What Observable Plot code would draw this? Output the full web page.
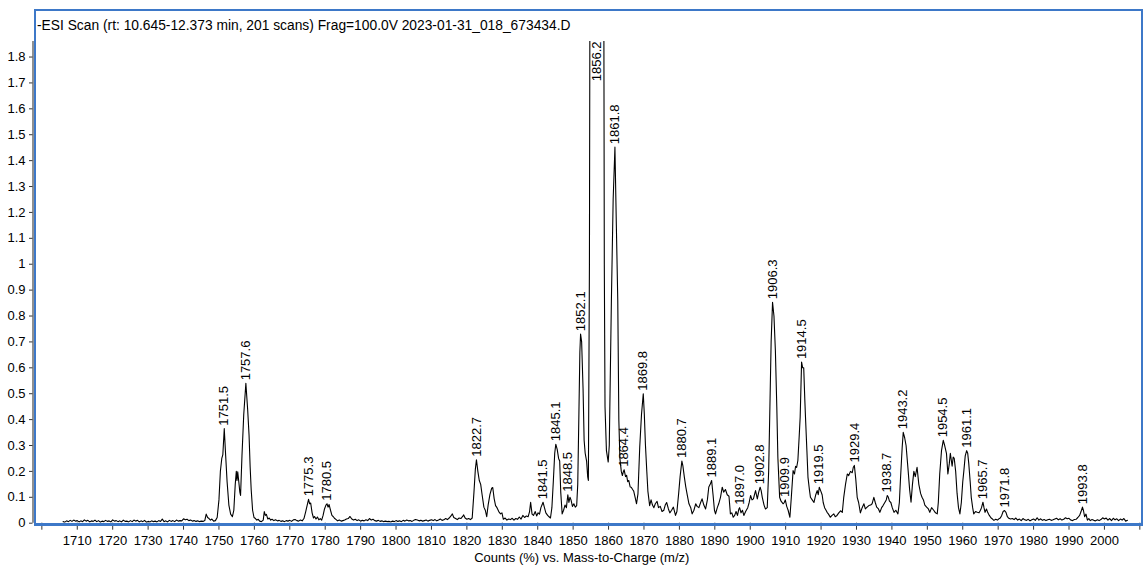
<!DOCTYPE html>
<html>
<head>
<meta charset="utf-8">
<script src="https://cdn.jsdelivr.net/npm/d3@7"></script>
<script src="https://cdn.jsdelivr.net/npm/@observablehq/plot@0.6"></script>
<style>
  html, body { margin: 0; padding: 0; background: #fff; }
  #wrap { position: relative; width: 1144px; height: 565px; font-family: "Liberation Sans", Arial, sans-serif; }
  #frame { position: absolute; left: 34px; top: 9px; width: 1109px; height: 517px; box-sizing: border-box;
           border: 2px solid #3d78c8; border-bottom-width: 3px; pointer-events: none; }
  #title { position: absolute; left: 37px; top: 18px; font-size: 13.8px; line-height: 15px; color: #000; white-space: nowrap; }
</style>
</head>
<body>
<div id="wrap">
  <div id="chart"></div>
  <div id="frame"></div>
  <div id="title">-ESI Scan (rt: 10.645-12.373 min, 201 scans) Frag=100.0V 2023-01-31_018_673434.D</div>
</div>
<script>
// Axis ranges and ticks
const mzRange = [1697.5, 2010.75];
const countRange = [0, 1.86];
const xTicks = [1700, 1710, 1720, 1730, 1740, 1750, 1760, 1770, 1780, 1790, 1800, 1810, 1820, 1830, 1840,
  1850, 1860, 1870, 1880, 1890, 1900, 1910, 1920, 1930, 1940, 1950, 1960, 1970, 1980, 1990, 2000, 2010];
const xLabeled = [1710, 1720, 1730, 1740, 1750, 1760, 1770, 1780, 1790, 1800, 1810, 1820, 1830, 1840,
  1850, 1860, 1870, 1880, 1890, 1900, 1910, 1920, 1930, 1940, 1950, 1960, 1970, 1980, 1990, 2000];
const yTicks = [0, 0.1, 0.2, 0.3, 0.4, 0.5, 0.6, 0.7, 0.8, 0.9, 1, 1.1, 1.2, 1.3, 1.4, 1.5, 1.6, 1.7, 1.8];
const yTickLabels = ["0", "0.1", "0.2", "0.3", "0.4", "0.5", "0.6", "0.7", "0.8", "0.9", "1",
  "1.1", "1.2", "1.3", "1.4", "1.5", "1.6", "1.7", "1.8"];
const xTitle = "Counts (%) vs. Mass-to-Charge (m/z)";

// Spectrum trace, [m/z, counts %], split by m/z region
const traceA = [ // 1706 – 1749 baseline
  [1706.0,0.006],[1706.5,0.004],[1707.0,0.009],[1707.5,0.006],[1708.0,0.011],[1708.5,0.007],[1709.0,0.012],[1709.5,0.008],
  [1710.0,0.010],[1710.5,0.005],[1711.0,0.009],[1711.5,0.006],[1712.0,0.013],[1712.5,0.008],[1713.0,0.011],[1713.5,0.005],
  [1714.0,0.009],[1714.5,0.007],[1715.0,0.012],[1715.5,0.006],[1716.0,0.010],[1716.5,0.004],[1717.0,0.008],[1717.5,0.006],
  [1718.0,0.011],[1718.5,0.007],[1719.0,0.009],[1719.5,0.005],[1720.0,0.013],[1720.5,0.008],[1721.0,0.010],[1721.5,0.006],
  [1722.0,0.009],[1722.5,0.005],[1723.0,0.012],[1723.5,0.007],[1724.0,0.008],[1724.5,0.005],[1725.0,0.010],[1725.5,0.006],
  [1726.0,0.012],[1726.5,0.008],[1727.0,0.011],[1727.5,0.005],[1728.0,0.009],[1728.5,0.006],[1729.0,0.011],[1729.5,0.004],
  [1730.0,0.007],[1730.5,0.005],[1731.0,0.009],[1731.5,0.006],[1732.0,0.008],[1732.5,0.005],[1733.0,0.010],[1733.5,0.007],
  [1734.0,0.016],[1734.5,0.006],[1735.0,0.009],[1735.5,0.005],[1736.0,0.011],[1736.5,0.007],[1737.0,0.010],[1737.5,0.006],
  [1738.0,0.012],[1738.5,0.008],[1739.0,0.010],[1739.5,0.009],[1740.0,0.017],[1740.5,0.013],[1741.0,0.015],[1741.5,0.010],
  [1742.0,0.012],[1742.5,0.008],[1743.0,0.010],[1743.5,0.007],[1744.0,0.009],[1744.5,0.006],[1745.0,0.008],[1745.5,0.007],
  [1746.0,0.010],[1746.4,0.035],[1746.8,0.022],[1747.2,0.018],[1747.6,0.012],[1748.0,0.016],[1748.5,0.008],[1749.0,0.010]
];
const traceB = [ // 1749.5 – 1790
  [1749.5,0.022],[1750.0,0.090],[1750.4,0.200],[1750.8,0.250],[1751.1,0.265],[1751.5,0.365],[1751.9,0.260],[1752.3,0.160],
  [1752.8,0.070],[1753.3,0.035],[1753.8,0.025],[1754.2,0.050],[1754.6,0.150],[1754.9,0.200],[1755.1,0.165],[1755.3,0.198],
  [1755.6,0.160],[1755.9,0.120],[1756.1,0.107],[1756.5,0.260],[1757.0,0.420],[1757.6,0.540],[1758.1,0.440],[1758.5,0.340],
  [1758.8,0.220],[1759.1,0.130],[1759.5,0.050],[1759.9,0.022],[1760.3,0.018],[1760.7,0.012],[1761.1,0.015],[1761.5,0.008],
  [1762.0,0.006],[1762.5,0.012],[1762.8,0.045],[1763.1,0.030],[1763.4,0.034],[1763.8,0.016],[1764.2,0.020],[1764.6,0.012],
  [1765.0,0.015],[1765.5,0.010],[1766.0,0.013],[1766.5,0.009],[1767.0,0.011],[1767.5,0.007],[1768.0,0.009],[1768.5,0.006],
  [1769.0,0.010],[1769.5,0.008],[1770.0,0.011],[1770.5,0.007],[1771.0,0.013],[1771.5,0.014],[1772.0,0.010],[1772.5,0.008],
  [1773.0,0.012],[1773.5,0.009],[1774.0,0.018],[1774.5,0.045],[1775.0,0.075],[1775.3,0.092],[1775.6,0.075],[1775.9,0.078],
  [1776.3,0.040],[1776.7,0.020],[1777.0,0.026],[1777.4,0.016],[1777.8,0.024],[1778.2,0.013],[1778.6,0.018],[1779.0,0.012],
  [1779.4,0.030],[1779.8,0.055],[1780.2,0.070],[1780.5,0.075],[1780.8,0.062],[1781.1,0.072],[1781.5,0.050],[1781.9,0.030],
  [1782.3,0.025],[1782.7,0.018],[1783.1,0.014],[1783.5,0.009],[1784.0,0.012],[1784.5,0.008],[1785.0,0.010],[1785.5,0.012],
  [1786.0,0.016],[1786.5,0.018],[1787.0,0.026],[1787.5,0.016],[1788.0,0.012],[1788.5,0.015],[1789.0,0.010],[1789.5,0.013]
];
const traceC = [ // 1790 – 1851
  [1790.0,0.008],[1790.5,0.011],[1791.0,0.009],[1791.5,0.013],[1792.0,0.010],[1792.5,0.018],[1793.0,0.012],[1793.5,0.015],
  [1794.0,0.010],[1794.5,0.008],[1795.0,0.011],[1795.5,0.007],[1796.0,0.009],[1796.5,0.006],[1797.0,0.008],[1797.5,0.006],
  [1798.0,0.007],[1798.5,0.005],[1799.0,0.008],[1799.5,0.006],[1800.0,0.010],[1800.5,0.007],[1801.0,0.009],[1801.5,0.006],
  [1802.0,0.011],[1802.5,0.008],[1803.0,0.012],[1803.5,0.009],[1804.0,0.010],[1804.5,0.007],[1805.0,0.011],[1805.5,0.014],
  [1806.0,0.012],[1806.5,0.009],[1807.0,0.011],[1807.5,0.008],[1808.0,0.010],[1808.5,0.012],[1809.0,0.008],[1809.5,0.011],
  [1810.0,0.013],[1810.5,0.010],[1811.0,0.014],[1811.5,0.009],[1812.0,0.012],[1812.5,0.016],[1813.0,0.011],[1813.5,0.013],
  [1814.0,0.018],[1814.5,0.014],[1815.0,0.020],[1815.5,0.028],[1815.9,0.036],[1816.3,0.022],[1816.8,0.018],[1817.3,0.014],
  [1817.8,0.020],[1818.3,0.018],[1818.8,0.026],[1819.1,0.032],[1819.5,0.020],[1820.0,0.015],[1820.5,0.018],[1821.0,0.014],
  [1821.5,0.020],[1822.0,0.120],[1822.4,0.210],[1822.7,0.245],[1823.1,0.200],[1823.5,0.165],[1823.9,0.150],[1824.3,0.110],
  [1824.8,0.062],[1825.2,0.050],[1825.6,0.025],[1826.0,0.070],[1826.5,0.110],[1827.0,0.135],[1827.3,0.138],[1827.7,0.095],
  [1828.1,0.068],[1828.5,0.060],[1829.0,0.045],[1829.5,0.036],[1829.9,0.040],[1830.3,0.015],[1830.8,0.020],[1831.3,0.012],
  [1831.8,0.016],[1832.3,0.014],[1832.8,0.019],[1833.3,0.012],[1833.8,0.018],[1834.3,0.015],[1834.8,0.024],[1835.3,0.016],
  [1835.8,0.030],[1836.3,0.022],[1836.8,0.028],[1837.3,0.025],[1837.7,0.045],[1838.0,0.081],[1838.4,0.035],[1838.8,0.030],
  [1839.3,0.045],[1839.7,0.028],[1840.1,0.040],[1840.5,0.035],[1840.9,0.060],[1841.2,0.070],[1841.5,0.081],[1841.9,0.060],
  [1842.3,0.040],[1842.8,0.030],[1843.2,0.025],[1843.6,0.020],[1844.0,0.060],[1844.4,0.160],[1844.8,0.270],[1845.1,0.305],
  [1845.5,0.285],[1845.9,0.250],[1846.2,0.240],[1846.5,0.120],[1846.9,0.036],[1847.3,0.050],[1847.7,0.070],[1848.1,0.060],
  [1848.5,0.110],[1848.8,0.080],[1849.1,0.100],[1849.4,0.090],[1849.8,0.065],[1850.2,0.075],[1850.6,0.062],[1851.0,0.068]
];
const traceD = [ // 1851 – 1900
  [1851.3,0.150],[1851.6,0.400],[1851.9,0.660],[1852.1,0.730],[1852.4,0.700],[1852.8,0.520],[1853.1,0.320],[1853.4,0.270],
  [1853.8,0.240],[1854.1,0.180],[1854.3,0.165],[1854.6,1.000],[1854.8,2.500],[1856.2,5.500],[1858.6,2.500],[1858.8,1.000],
  [1859.0,0.450],[1859.4,0.280],[1859.9,0.236],[1860.2,0.300],[1860.8,0.860],[1861.3,1.250],[1861.8,1.452],[1862.2,1.150],
  [1862.6,0.860],[1862.9,0.400],[1863.2,0.250],[1863.6,0.200],[1863.9,0.184],[1864.2,0.200],[1864.4,0.206],[1864.8,0.180],
  [1865.1,0.185],[1865.4,0.160],[1865.7,0.165],[1866.1,0.140],[1866.4,0.139],[1866.8,0.130],[1867.1,0.124],[1867.5,0.100],
  [1867.9,0.075],[1868.3,0.113],[1868.8,0.293],[1869.3,0.420],[1869.8,0.500],[1870.1,0.420],[1870.4,0.306],[1870.8,0.200],
  [1871.1,0.124],[1871.6,0.068],[1872.0,0.090],[1872.4,0.070],[1872.8,0.060],[1873.2,0.075],[1873.7,0.084],[1874.1,0.060],
  [1874.6,0.065],[1875.1,0.045],[1875.6,0.050],[1876.0,0.070],[1876.4,0.080],[1876.9,0.055],[1877.3,0.040],[1877.8,0.050],
  [1878.3,0.062],[1878.9,0.030],[1879.3,0.045],[1879.8,0.116],[1880.2,0.180],[1880.7,0.240],[1881.0,0.220],[1881.4,0.178],
  [1881.8,0.140],[1882.2,0.110],[1882.7,0.075],[1883.2,0.060],[1883.6,0.036],[1884.1,0.050],[1884.6,0.075],[1885.0,0.065],
  [1885.5,0.060],[1886.0,0.080],[1886.4,0.094],[1886.9,0.070],[1887.4,0.055],[1887.9,0.090],[1888.3,0.140],[1888.7,0.150],
  [1889.1,0.165],[1889.5,0.110],[1889.9,0.050],[1890.2,0.036],[1890.7,0.060],[1891.1,0.075],[1891.6,0.100],[1892.1,0.139],
  [1892.5,0.120],[1893.0,0.130],[1893.5,0.110],[1894.0,0.104],[1894.4,0.036],[1894.8,0.040],[1895.2,0.023],[1895.6,0.030],
  [1896.0,0.045],[1896.4,0.030],[1896.8,0.055],[1897.0,0.060],[1897.4,0.040],[1897.8,0.050],[1898.2,0.030],[1898.7,0.045],
  [1899.3,0.060],[1899.7,0.080]
];
const traceE = [ // 1900 – 1950
  [1900.1,0.107],[1900.5,0.090],[1900.9,0.094],[1901.2,0.110],[1901.5,0.126],[1902.0,0.094],[1902.4,0.120],[1902.8,0.139],
  [1903.1,0.125],[1903.4,0.100],[1903.9,0.070],[1904.3,0.055],[1904.8,0.060],[1905.2,0.200],[1905.5,0.410],[1905.9,0.700],
  [1906.3,0.853],[1906.7,0.800],[1907.1,0.667],[1907.5,0.450],[1907.8,0.255],[1908.3,0.100],[1908.7,0.085],[1909.3,0.075],
  [1909.6,0.080],[1909.9,0.090],[1910.3,0.065],[1910.7,0.050],[1911.2,0.023],[1911.6,0.100],[1912.1,0.203],[1912.5,0.190],
  [1912.8,0.220],[1913.1,0.215],[1913.45,0.242],[1913.8,0.330],[1914.1,0.410],[1914.5,0.622],[1914.8,0.600],[1915.1,0.600],
  [1915.4,0.480],[1915.6,0.410],[1916.0,0.280],[1916.3,0.178],[1916.7,0.130],[1917.0,0.100],[1917.5,0.090],[1918.0,0.080],
  [1918.5,0.110],[1918.9,0.126],[1919.2,0.110],[1919.5,0.139],[1919.9,0.125],[1920.3,0.110],[1920.6,0.080],[1921.0,0.060],
  [1921.4,0.050],[1921.7,0.042],[1922.1,0.035],[1922.6,0.023],[1923.1,0.030],[1923.6,0.036],[1924.0,0.025],[1924.5,0.030],
  [1925.0,0.040],[1925.5,0.048],[1926.0,0.042],[1926.4,0.100],[1926.9,0.150],[1927.4,0.190],[1927.8,0.184],[1928.3,0.200],
  [1928.8,0.195],[1929.1,0.216],[1929.4,0.223],[1929.8,0.170],[1930.2,0.100],[1930.6,0.080],[1931.1,0.040],[1931.6,0.060],
  [1932.1,0.075],[1932.5,0.055],[1933.0,0.062],[1933.5,0.068],[1934.0,0.070],[1934.4,0.075],[1934.9,0.100],[1935.3,0.080],
  [1935.7,0.062],[1936.2,0.055],[1936.6,0.042],[1937.1,0.060],[1937.5,0.068],[1938.0,0.080],[1938.4,0.090],[1938.7,0.107],
  [1939.0,0.100],[1939.3,0.085],[1939.7,0.080],[1940.1,0.060],[1940.6,0.042],[1941.1,0.050],[1941.7,0.036],[1942.1,0.080],
  [1942.4,0.165],[1942.9,0.293],[1943.2,0.351],[1943.6,0.330],[1944.0,0.300],[1944.3,0.250],[1944.6,0.200],[1945.0,0.130],
  [1945.4,0.081],[1945.8,0.150],[1946.2,0.200],[1946.6,0.180],[1947.1,0.216],[1947.6,0.150],[1948.1,0.115],[1948.5,0.100],
  [1948.9,0.090],[1949.3,0.070],[1949.8,0.062]
];
const traceF = [ // 1950 – 2006.5
  [1950.3,0.055],[1950.7,0.042],[1951.2,0.060],[1951.8,0.050],[1952.3,0.040],[1952.8,0.036],[1953.1,0.080],[1953.5,0.190],
  [1954.0,0.280],[1954.5,0.320],[1954.9,0.300],[1955.4,0.270],[1955.8,0.190],[1956.2,0.230],[1956.5,0.270],[1956.8,0.240],
  [1957.0,0.220],[1957.3,0.255],[1957.6,0.250],[1958.0,0.200],[1958.4,0.115],[1958.8,0.060],[1959.2,0.036],[1959.6,0.080],
  [1960.0,0.160],[1960.3,0.200],[1960.7,0.260],[1961.1,0.280],[1961.4,0.270],[1961.7,0.230],[1962.1,0.160],[1962.4,0.100],
  [1962.8,0.060],[1963.1,0.036],[1963.6,0.045],[1964.1,0.042],[1964.6,0.040],[1965.0,0.050],[1965.3,0.060],[1965.7,0.081],
  [1966.0,0.060],[1966.3,0.042],[1966.7,0.055],[1967.1,0.040],[1967.5,0.030],[1968.0,0.020],[1968.4,0.016],[1968.8,0.011],
  [1969.3,0.015],[1969.8,0.012],[1970.2,0.017],[1970.6,0.020],[1971.0,0.030],[1971.4,0.045],[1971.8,0.049],[1972.2,0.042],
  [1972.6,0.025],[1973.0,0.019],[1973.5,0.016],[1974.0,0.018],[1974.5,0.014],[1975.0,0.020],[1975.5,0.012],[1976.0,0.016],
  [1976.5,0.010],[1977.0,0.018],[1977.5,0.013],[1978.0,0.011],[1978.5,0.015],[1979.0,0.009],[1979.5,0.013],[1980.0,0.016],
  [1980.5,0.011],[1981.0,0.021],[1981.5,0.012],[1982.0,0.017],[1982.5,0.011],[1983.0,0.014],[1983.5,0.010],[1984.0,0.013],
  [1984.5,0.015],[1985.0,0.011],[1985.5,0.013],[1986.0,0.016],[1986.5,0.019],[1987.0,0.013],[1987.5,0.017],[1988.0,0.012],
  [1988.5,0.015],[1989.0,0.021],[1989.5,0.017],[1990.0,0.019],[1990.5,0.012],[1991.0,0.010],[1991.5,0.014],[1992.0,0.015],
  [1992.5,0.022],[1993.0,0.030],[1993.4,0.045],[1993.8,0.062],[1994.1,0.048],[1994.4,0.025],[1994.8,0.035],[1995.2,0.012],
  [1995.6,0.018],[1996.0,0.010],[1996.5,0.014],[1997.0,0.011],[1997.5,0.009],[1998.0,0.013],[1998.5,0.010],[1999.0,0.014],
  [1999.5,0.021],[2000.0,0.016],[2000.5,0.020],[2001.0,0.012],[2001.5,0.018],[2002.0,0.010],[2002.5,0.019],[2003.0,0.013],
  [2003.5,0.017],[2004.0,0.010],[2004.5,0.016],[2005.0,0.012],[2005.5,0.018],[2006.0,0.008],[2006.5,0.011]
];

// Annotated peak apexes (m/z)
const peakLabels = [1751.5, 1757.6, 1775.3, 1780.5, 1822.7, 1841.5, 1845.1, 1848.5, 1852.1, 1856.2,
  1861.8, 1864.4, 1869.8, 1880.7, 1889.1, 1897.0, 1902.8, 1906.3, 1909.9, 1914.5, 1919.5, 1929.4,
  1938.7, 1943.2, 1954.5, 1961.1, 1965.7, 1971.8, 1993.8];

const trace = [...traceA, ...traceB, ...traceC, ...traceD, ...traceE, ...traceF]
  .map(([mz, counts]) => ({mz, counts}));

// Each label sits on the trace point at its m/z
const peaks = peakLabels.map(mz => {
  const p = trace.find(d => Math.abs(d.mz - mz) < 1e-6);
  return {mz, counts: p.counts, text: mz.toFixed(1)};
});
const peaksOnScale = peaks.filter(d => d.counts <= countRange[1]);
const peaksOffScale = peaks.filter(d => d.counts > countRange[1]);

const chart = Plot.plot({
  width: 1144,
  height: 565,
  marginLeft: 32.5,
  marginRight: 2,
  marginTop: 41,
  marginBottom: 42.3,
  x: {domain: mzRange},
  y: {domain: countRange},
  style: {fontFamily: "'Liberation Sans', Arial, sans-serif", fontSize: "13px", color: "#000", background: "transparent"},
  marks: [
    Plot.ruleX([mzRange[0]], {stroke: "#555", strokeWidth: 1.3}),
    Plot.axisY({ticks: yTicks, tickSize: 3.5, tickPadding: 4, label: null, stroke: "#333",
      tickFormat: d => yTickLabels[yTicks.indexOf(d)]}),
    Plot.axisX({ticks: xTicks, tickSize: 7, tickPadding: 6, label: null, stroke: "#333",
      tickFormat: d => xLabeled.includes(d) ? String(d) : ""}),
    Plot.line(trace, {x: "mz", y: "counts", stroke: "#000", strokeWidth: 1.1, clip: true}),
    Plot.text(peaksOnScale, {x: "mz", y: "counts", text: "text", rotate: -90, textAnchor: "start", dy: -3, fill: "#000"}),
    Plot.text(peaksOffScale, {x: "mz", y: () => countRange[1], text: "text", rotate: -90, textAnchor: "end", dx: 2, fill: "#000"}),
    Plot.text([xTitle], {frameAnchor: "bottom", dy: 39, dx: -6, fill: "#000"})
  ]
});
document.getElementById("chart").appendChild(chart);
</script>
</body>
</html>
